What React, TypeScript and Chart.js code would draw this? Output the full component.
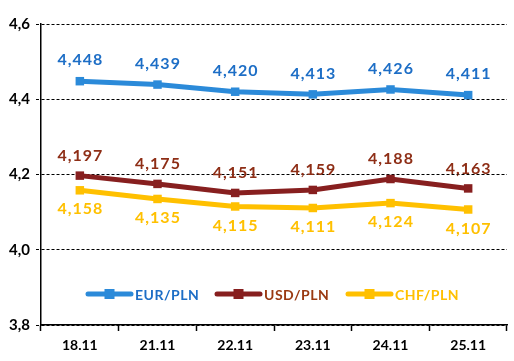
import React, { useEffect, useRef } from "react";
import { Chart, registerables } from "chart.js";

Chart.register(...registerables);

const categories = ["18.11", "21.11", "22.11", "23.11", "24.11", "25.11"];
const eurPln = [4.448, 4.439, 4.42, 4.413, 4.426, 4.411];
const usdPln = [4.197, 4.175, 4.151, 4.159, 4.188, 4.163];
const chfPln = [4.158, 4.135, 4.115, 4.111, 4.124, 4.107];
const seriesNames = ["EUR/PLN", "USD/PLN", "CHF/PLN"];
const yTicks = [3.8, 4.0, 4.2, 4.4, 4.6];

const lineColors = ["#2b8ad9", "#871f1f", "#ffc000"];
const labelColors = ["#1d6ec6", "#8e2e16", "#ffc000"];
const legendTextColors = ["#1d6ec6", "#9a3a12", "#ffc000"];
const labelOffsets = [-21, -20, 19];

const FONT = "Lato, 'DejaVu Sans', sans-serif";

const fmt = (v: number) => v.toFixed(3).replace(".", ",");

const labelPlugin = {
  id: "valueLabels",
  afterDatasetsDraw(chart: any) {
    const ctx = chart.ctx;
    ctx.save();
    ctx.font = `bold 16px ${FONT}`;
    (ctx as any).letterSpacing = "1px";
    ctx.textAlign = "center";
    ctx.textBaseline = "middle";
    chart.data.datasets.forEach((ds: any, i: number) => {
      const meta = chart.getDatasetMeta(i);
      ctx.fillStyle = labelColors[i];
      meta.data.forEach((pt: any, j: number) => {
        ctx.fillText(fmt(ds.data[j]), pt.x + 0.5, pt.y + labelOffsets[i]);
      });
    });
    ctx.restore();
  },
};

const legendPlugin = {
  id: "innerLegend",
  afterDraw(chart: any) {
    const ctx = chart.ctx;
    const area = chart.chartArea;
    const y = area.bottom - 31;
    const starts = [88, 217, 348];
    ctx.save();
    ctx.font = `bold 14px ${FONT}`;
    (ctx as any).letterSpacing = "0.5px";
    ctx.textBaseline = "middle";
    ctx.textAlign = "left";
    seriesNames.forEach((name, i) => {
      const x0 = starts[i];
      ctx.strokeStyle = lineColors[i];
      ctx.lineWidth = 5;
      ctx.lineCap = "round";
      ctx.beginPath();
      ctx.moveTo(x0, y);
      ctx.lineTo(x0 + 43, y);
      ctx.stroke();
      ctx.fillStyle = lineColors[i];
      ctx.fillRect(x0 + 21.5 - 5, y - 5, 10, 10);
      ctx.fillStyle = legendTextColors[i];
      ctx.fillText(name, x0 + 47, y + 1);
    });
    ctx.restore();
  },
};

export default function App() {
  const ref = useRef<HTMLCanvasElement>(null);
  useEffect(() => {
    document.body.style.margin = "0";
    const datasets = [eurPln, usdPln, chfPln].map((d, i) => ({
      label: seriesNames[i],
      data: d,
      borderColor: lineColors[i],
      backgroundColor: lineColors[i],
      borderWidth: 5,
      pointStyle: "rect",
      pointRadius: 6,
      pointHoverRadius: 6,
      pointBorderWidth: 0,
      tension: 0,
    }));
    const chart = new Chart(ref.current!, {
      type: "line",
      data: { labels: categories, datasets },
      options: {
        animation: false,
        responsive: false,
        events: [],
        layout: { padding: { top: 24, right: 7, left: 0, bottom: 0 } },
        plugins: { legend: { display: false }, tooltip: { enabled: false } },
        scales: {
          x: {
            offset: true,
            grid: {
              offset: true,
              drawOnChartArea: false,
              drawTicks: true,
              tickLength: 6,
              tickColor: "#000",
              tickWidth: 1.5,
            },
            border: { display: true, color: "#000", width: 1.5 },
            ticks: {
              color: "#000",
              font: { family: FONT, size: 14, weight: "bold" },
              padding: 6,
            },
            afterFit(scale: any) {
              scale.height = 36;
            },
          },
          y: {
            min: 3.8,
            max: 4.6,
            afterBuildTicks(scale: any) {
              scale.ticks = yTicks.map((v) => ({ value: v }));
            },
            grid: {
              color: "#000",
              lineWidth: 1,
              tickLength: 5,
              tickColor: "#000",
              tickBorderDash: [3, 2],
            },
            border: { display: true, color: "#000", width: 1.5, dash: [3, 2] },
            ticks: {
              color: "#000",
              font: { family: FONT, size: 15, weight: "bold" },
              padding: 6,
              callback: (v: any) => Number(v).toFixed(1).replace(".", ","),
            },
            afterFit(scale: any) {
              scale.width = 41;
            },
          },
        },
      },
      plugins: [labelPlugin, legendPlugin],
    } as any);
    return () => chart.destroy();
  }, []);
  return (
    <div style={{ width: 514, height: 361, background: "#fff" }}>
      <canvas ref={ref} width={514} height={361} />
    </div>
  );
}
